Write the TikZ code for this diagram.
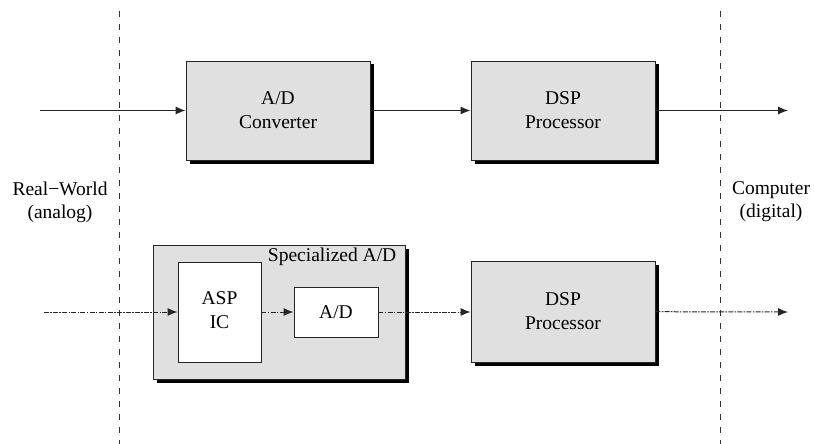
\documentclass[tikz,border=0pt]{standalone}
\usepackage{fontspec}
\setmainfont{Liberation Serif}
\usetikzlibrary{arrows.meta,shadows,calc}
\definecolor{boxgray}{HTML}{E0E0E0}
\begin{document}
\begin{tikzpicture}[x=1pt,y=-1pt,
  font=\fontsize{19.5}{24}\selectfont,
  shadowbox/.style={draw=black!85, line width=0.9pt, fill=boxgray, inner sep=0pt, align=center,
    drop shadow={shadow xshift=3.5pt, shadow yshift=-3.5pt, opacity=1, fill=black}},
  whitebox/.style={draw=black!85, line width=0.9pt, fill=white, inner sep=0pt, align=center},
  conn/.style={line width=1pt, draw=black!85, -{Latex[length=10pt,width=8pt]}},
  dconn/.style={conn, draw=black!85, dash pattern=on 5pt off 1.3pt on 1.5pt off 1.3pt},
  divider/.style={line width=0.9pt, draw=black!80, dash pattern=on 6pt off 7pt},
  sidelabel/.style={align=center, inner sep=0pt, font=\fontsize{19.5}{23}\selectfont}]
\useasboundingbox (0,0) rectangle (814,444);

% dividers
\coordinate (dlt) at (119,11);
\coordinate (dlb) at (119,444);
\coordinate (drt) at (720,11);
\coordinate (drb) at (720,444);
\draw[divider] (dlt) -- (dlb);
\draw[divider] (drt) -- (drb);

% side labels
\node[sidelabel] (rw) at (60,202) {Real−World\\(analog)};
\node[sidelabel] (cd) at (771,202) {Computer\\(digital)};

% top row
\node[shadowbox, minimum width=184pt, minimum height=99pt] (adc) at (278,110.5) {A/D\\Converter};
\node[shadowbox, minimum width=184pt, minimum height=99pt] (dsp1) at (563,110.5) {DSP\\Processor};
\coordinate (in1) at (40,110.5);
\coordinate (out1) at (788,110.5);
\draw[conn] (in1) -- (adc);
\draw[conn] (adc) -- (dsp1);
\draw[conn] (dsp1) -- (out1);

% bottom row
\node[shadowbox, minimum width=252pt, minimum height=134pt] (spec) at (279,312) {};
\node[anchor=base east, inner sep=0pt] (speclbl) at ($(spec.north east)+(-9,17)$) {Specialized A/D};
\node[whitebox, minimum width=83pt, minimum height=100pt] (asp) at (219.5,312) {\raisebox{-5pt}{\begin{tabular}{@{}c@{}}ASP\\IC\end{tabular}}};
\node[whitebox, minimum width=84pt, minimum height=50pt] (ad) at (336,312) {\raisebox{-5pt}{A/D}};
\node[shadowbox, minimum width=184pt, minimum height=101pt] (dsp2) at (563,311.5) {DSP\\Processor};
\coordinate (in2) at (44,312);
\coordinate (out2) at (788,312);
\draw[dconn] (in2) -- (asp);
\draw[dconn] (asp) -- (ad);
\draw[dconn] (ad) -- (ad -| dsp2.west);
\draw[dconn] (dsp2) -- (out2);
\end{tikzpicture}
\end{document}
